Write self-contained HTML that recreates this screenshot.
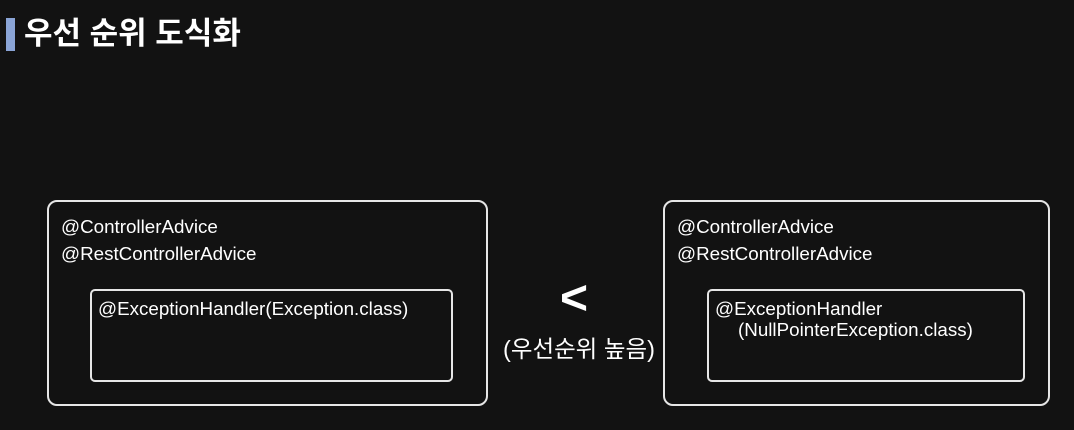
<!DOCTYPE html>
<html><head><meta charset="utf-8"><style>
body{margin:0;width:1074px;height:430px;background:#121212;overflow:hidden;position:relative;font-family:"Liberation Sans","Noto Sans CJK KR",sans-serif;color:#fff}
.bar{position:absolute;left:6px;top:18px;width:9px;height:33px;background:#8aa4d6}
.title{position:absolute;left:24px;top:14px;font-size:31px;font-weight:bold;line-height:40px}
.box{position:absolute;border:2px solid #e6e6e6;border-radius:10px;box-sizing:border-box}
.t{position:absolute;font-size:18.8px;line-height:20px;white-space:nowrap}
</style></head><body>
<div class="bar"></div><div class="title">우선 순위 도식화</div>
<div class="box" style="left:47px;top:200px;width:441px;height:206px"></div>
<div class="t" style="left:61px;top:217px">@ControllerAdvice</div>
<div class="t" style="left:61px;top:244px">@RestControllerAdvice</div>
<div class="box" style="left:90px;top:289px;width:363px;height:93px;border-radius:5px"></div>
<div class="t" style="left:98px;top:299px">@ExceptionHandler(Exception.class)</div>
<div class="box" style="left:663px;top:200px;width:387px;height:206px"></div>
<div class="t" style="left:677px;top:217px">@ControllerAdvice</div>
<div class="t" style="left:677px;top:244px">@RestControllerAdvice</div>
<div class="box" style="left:707px;top:289px;width:318px;height:93px;border-radius:5px"></div>
<div class="t" style="left:715px;top:299px">@ExceptionHandler</div>
<div class="t" style="left:738px;top:320px">(NullPointerException.class)</div>
<div class="t" style="left:560px;top:276px;font-size:48px;line-height:46px;font-weight:bold">&lt;</div>
<div class="t" style="left:503px;top:336px;font-size:23.5px;line-height:26px">(우선순위 높음)</div>
</body></html>
